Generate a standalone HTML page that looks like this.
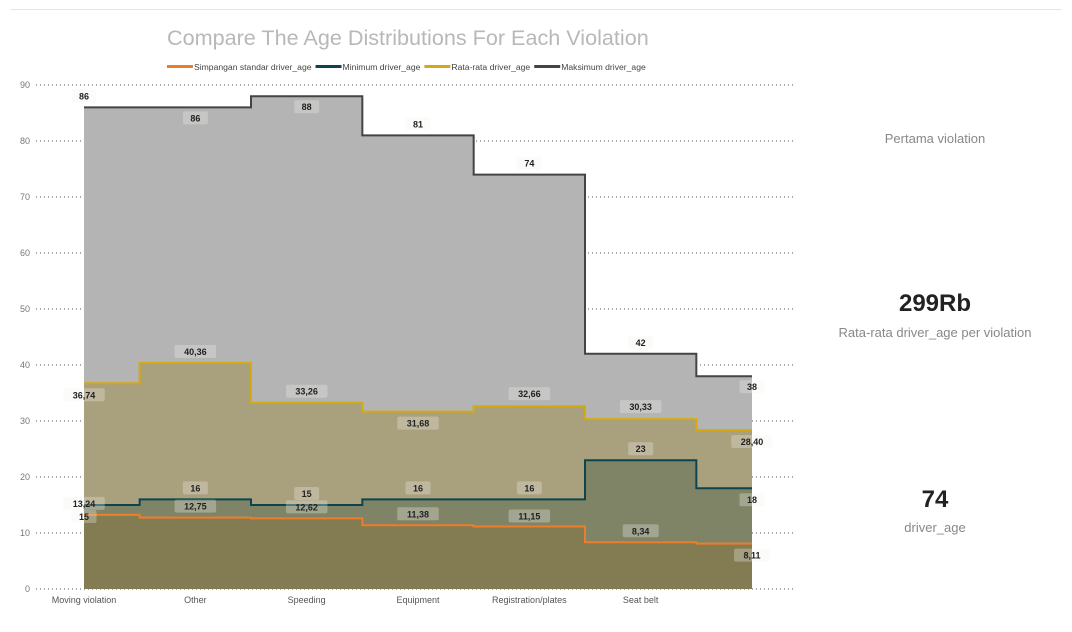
<!DOCTYPE html>
<html><head><meta charset="utf-8"><style>
html,body{margin:0;width:1072px;height:632px;background:#fff;font-family:"Liberation Sans",sans-serif;overflow:hidden;position:relative}
.t{position:absolute;white-space:nowrap}
</style></head><body>
<div style="position:absolute;left:10px;top:9px;width:1052px;height:1px;background:#e6e6e6"></div>
<div class="t" style="left:167px;top:25px;font-size:21.6px;color:#b8b8b8">Compare The Age Distributions For Each Violation</div>
<svg id="chart" width="1072" height="632" style="position:absolute;left:0;top:0"></svg>
<div class="t" style="left:835px;top:131px;width:200px;text-align:center;font-size:13px;color:#888">Pertama violation</div>
<div class="t" style="left:835px;top:290px;width:200px;text-align:center;font-size:24px;font-weight:bold;color:#222">299Rb</div>
<div class="t" style="left:825px;top:325px;width:220px;text-align:center;font-size:13px;color:#888">Rata-rata driver_age per violation</div>
<div class="t" style="left:835px;top:486px;width:200px;text-align:center;font-size:24px;font-weight:bold;color:#222">74</div>
<div class="t" style="left:835px;top:520px;width:200px;text-align:center;font-size:13px;color:#888">driver_age</div>
<script>
const categories=["Moving violation","Other","Speeding","Equipment","Registration/plates","Seat belt",""];
const maxVals=[86,86,88,81,74,42,38];
const avgVals=[36.74,40.36,33.26,31.68,32.66,30.33,28.40];
const minVals=[15,16,15,16,16,23,18];
const stdVals=[13.24,12.75,12.62,11.38,11.15,8.34,8.11];
const avgLabels=["36,74","40,36","33,26","31,68","32,66","30,33","28,40"];
const stdLabels=["13,24","12,75","12,62","11,38","11,15","8,34","8,11"];
const yTicks=[0,10,20,30,40,50,60,70,80,90];
const maxDy=[-11,11,11,-11,-11,-11,11];
const avgDy=[12,-11,-11,12,-12,-12,12];
const minDy=[12,-11,-11,-11,-11,-11,12];
const stdDy=[-11,-11,-11,-11,-10,-11,12];
const svg=document.getElementById('chart');
const NS='http://www.w3.org/2000/svg';
const x0=84,x1=752,yB=589,yT=85,yMax=90;
const n=categories.length,step=(x1-x0)/(n-1);
const X=i=>x0+i*step;
const Y=v=>yB-(v/yMax)*(yB-yT);
function mk(t,a){const e=document.createElementNS(NS,t);for(const k in a)e.setAttribute(k,a[k]);svg.appendChild(e);return e;}
yTicks.forEach(t=>{
 const l=mk('line',{x1:36,x2:796,y1:Y(t),y2:Y(t),stroke:'#555','stroke-dasharray':'1 3','stroke-width':1});
 
 
 const tx=mk('text',{x:30,y:Y(t)+3,'text-anchor':'end','font-size':9,fill:'#777'});tx.textContent=t;
 
 
});
function stepPts(vals){let p=[];vals.forEach((v,i)=>{const a=i==0?X(0):X(i)-step/2,b=i==n-1?X(n-1):X(i)+step/2;p.push([a,Y(v)],[b,Y(v)]);});return p;}
function area(vals,fill,name){const p=stepPts(vals);const d='M'+X(0)+','+yB+' '+p.map(q=>'L'+q[0]+','+q[1]).join(' ')+' L'+X(n-1)+','+yB+'Z';const e=mk('path',{d:d,fill:fill});
 
 }
function line(vals,col,name){const p=stepPts(vals);const e=mk('polyline',{points:p.map(q=>q.join(',')).join(' '),fill:'none',stroke:col,'stroke-width':2});
 
 }
area(maxVals,'#b4b4b4','max-area');
area(avgVals,'#a9a07d','avg-area');
area(minVals,'#808467','min-area');
area(stdVals,'#837c52','std-area');
line(maxVals,'#444','max-line');
line(avgVals,'#d4aa14','avg-line');
line(minVals,'#0b4650','min-line');
line(stdVals,'#ee7d2a','std-line');
function labels(vals,txt,dy,name){vals.forEach((v,i)=>{const s=txt?txt[i]:String(v);const w=s.length*5.5+14;const cx=X(i),cy=Y(v)+dy[i];
 const r=mk('rect',{x:cx-w/2,y:cy-7,width:w,height:13,rx:2,fill:'#f1f1ec','fill-opacity':0.3});
 
 
 const t=mk('text',{x:cx,y:cy+3,'text-anchor':'middle','font-size':9,'font-weight':'bold',fill:'#222'});t.textContent=s;
 
 });}
labels(maxVals,null,maxDy,'max');
labels(avgVals,avgLabels,avgDy,'avg');
labels(minVals,null,minDy,'min');
labels(stdVals,stdLabels,stdDy,'std');
categories.forEach((c,i)=>{const t=mk('text',{x:X(i),y:603,'text-anchor':'middle','font-size':9,fill:'#555'});t.textContent=c;
 
 });
const leg=[["Simpangan standar driver_age","#ee7d2a"],["Minimum driver_age","#0b4650"],["Rata-rata driver_age","#d4aa14"],["Maksimum driver_age","#444"]];
let lx=167;
leg.forEach(l=>{const r=mk('rect',{x:lx,y:65,width:26,height:3,fill:l[1]});
 
 
 const t=mk('text',{x:lx+27,y:70,'font-size':8.6,fill:'#444'});t.textContent=l[0];
 
 
 lx+=27+t.getComputedTextLength()+4;});
</script>
</body></html>
